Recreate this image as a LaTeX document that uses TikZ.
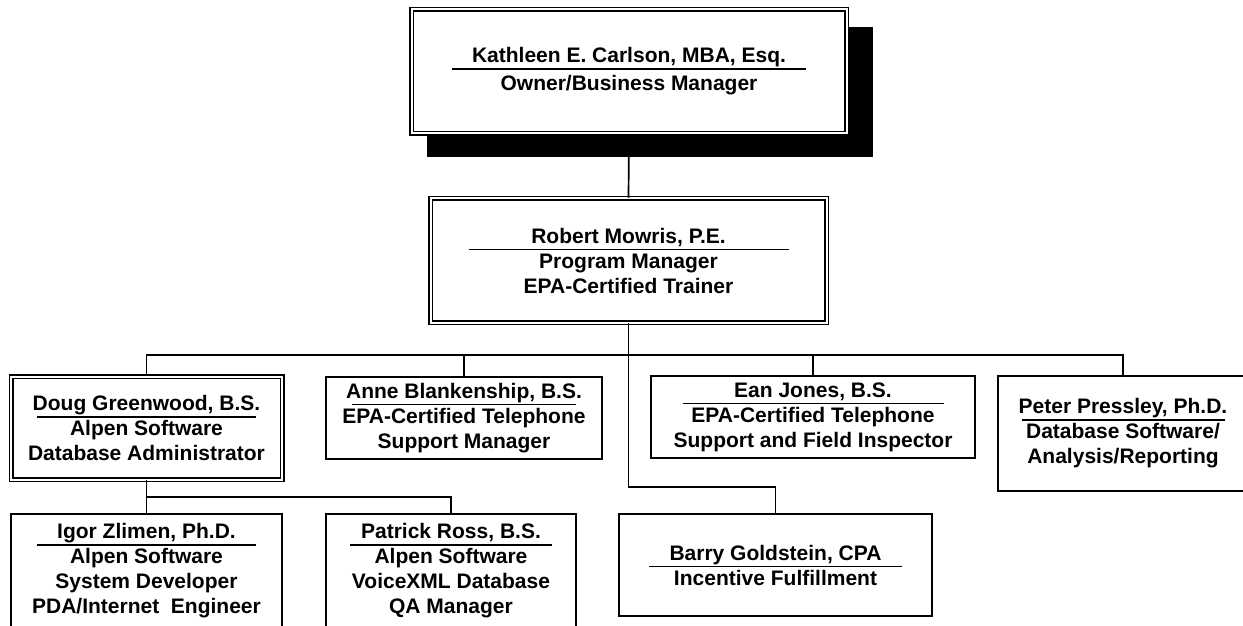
\documentclass[tikz,border=0pt]{standalone}
\usepackage{fontspec}
\setmainfont{Liberation Sans}
\usetikzlibrary{backgrounds}

% name line with the rule under it
\newcommand{\staffname}[2]{\makebox[0pt]{\rule[-3.5pt]{#1}{0.7pt}}\makebox[0pt]{#2}}
\newcommand{\orgfont}{\fontsize{10.5}{12.5}\selectfont\bfseries}

\tikzset{
  staffbox/.style={draw, line width=0.9pt, fill=white, align=center, inner sep=0pt, font=\orgfont},
  leadbox/.style={staffbox, line width=0.75pt, double, double distance=1pt},
  link/.style={line width=0.85pt}
}

\begin{document}
\begin{tikzpicture}[x=0.5pt, y=-0.5pt]
	\useasboundingbox (0,0) rectangle (1243,626);

	% Owner and program manager
	\node[leadbox, minimum width=217.5pt, minimum height=62pt] (kc) at (629,71.5)
		{\staffname{177pt}{Kathleen E. Carlson, MBA, Esq.}\\[1.5pt] Owner/Business Manager};
	\node[leadbox, minimum width=198pt, minimum height=62pt] (rm) at (628.5,260.5)
		{\staffname{160pt}{Robert Mowris, P.E.}\\ Program Manager\\ EPA-Certified Trainer};

	\begin{scope}[on background layer]
		\fill ([shift={(16,18)}]kc.north west) rectangle ([shift={(26,23)}]kc.south east);
	\end{scope}

	% Staff row
	\node[leadbox, minimum width=135.5pt, minimum height=51.5pt] (dg) at (146.5,428)
		{\staffname{110pt}{Doug Greenwood, B.S.}\\ Alpen Software\\ Database Administrator};
	\node[staffbox, minimum width=138pt, minimum height=41pt] (ab) at (464,418)
		{\staffname{112pt}{Anne Blankenship, B.S.}\\ EPA-Certified Telephone\\ Support Manager};
	\node[staffbox, minimum width=162pt, minimum height=41pt] (ej) at (813,417)
		{\staffname{130.5pt}{Ean Jones, B.S.}\\ EPA-Certified Telephone\\ Support and Field Inspector};
	\node[staffbox, minimum width=125pt, minimum height=57.5pt] (pp) at (1123,433.5)
		{\staffname{101.5pt}{Peter Pressley, Ph.D.}\\ Database Software/\\ Analysis/Reporting};

	% Bottom row
	\node[staffbox, minimum width=135.5pt, minimum height=57pt] (iz) at (146.5,571)
		{\staffname{110pt}{Igor Zlimen, Ph.D.}\\ Alpen Software\\ System Developer\\ PDA/Internet\ \ Engineer};
	\node[staffbox, minimum width=125pt, minimum height=57pt] (pr) at (451,571)
		{\staffname{101pt}{Patrick Ross, B.S.}\\ Alpen Software\\ VoiceXML Database\\ QA Manager};
	\node[staffbox, minimum width=156.5pt, minimum height=51pt] (bg) at (775.5,565)
		{\staffname{126.5pt}{Barry Goldstein, CPA}\\ Incentive Fulfillment};

	% Connectors
	\coordinate (bus) at (628.5,355);
	\coordinate (bbend) at (628.5,487);
	\coordinate (dbus) at (146.5,497);

	\draw[link] (kc.south) -- (rm.north);
	\foreach \s in {dg,ab,ej,pp} {
		\draw[link] (rm.south) -- (bus) -| (\s.north);
	}
	\draw[link] (bus) -- (bbend) -| (bg.north);
	\draw[link] (dg.south) -- (iz.north);
	\draw[link] (dbus) -| (pr.north);
\end{tikzpicture}
\end{document}
